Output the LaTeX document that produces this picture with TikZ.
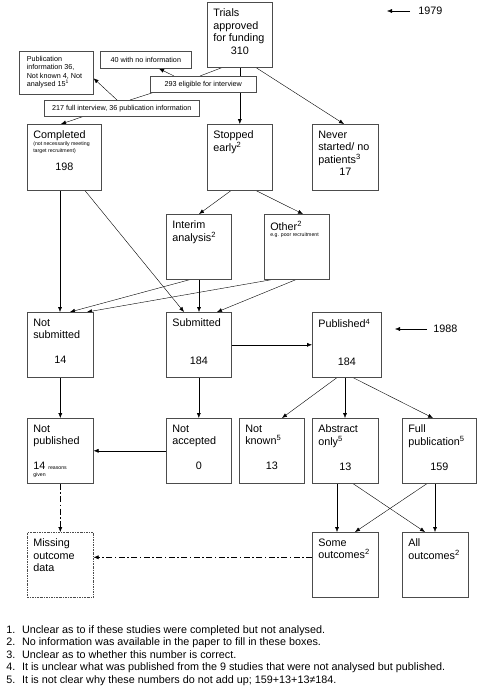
\documentclass[tikz,border=0pt]{standalone}
\usepackage{fontspec}
\setmainfont{Liberation Sans}
\usetikzlibrary{arrows.meta}
\usetikzlibrary{calc}
\pgfdeclarelayer{bg}
\pgfsetlayers{bg,main}
\newcommand\maintext{\fontsize{10.8}{12.5}\selectfont}
\newcommand\smalltext{\fontsize{7.2}{8.4}\selectfont}
\newcommand\tinytext{\fontsize{5.2}{6.8}\selectfont}

\begin{document}
\begin{tikzpicture}[x=1pt,y=-1pt,line width=0.6pt,font=\maintext,
  >={Latex[length=5pt,width=4pt]},
  box/.style 2 args={draw=black!70,fill=white,anchor=north west,inner xsep=6pt,inner ysep=6.5pt,
    execute at begin node={\begin{minipage}[c][#2pt][t]{#1pt}\raggedright},
    execute at end node={\end{minipage}}},
  note/.style={draw=black!70,fill=white,anchor=north west,font=\smalltext,inner sep=0pt},
  gap/.style={dash pattern=on 6pt off 2.5pt on 1.5pt off 2.5pt},
  year/.style={anchor=west,inner sep=0pt}]
\useasboundingbox (0,0) rectangle (478,688);
% top of the flow
\node (trials) at (207,2) [box={53}{52}] {Trials\\approved\\for funding\par\centering 310\par};
\node (pubinfo) at (19,51) [box={59}{33},inner xsep=7.5pt,inner ysep=5pt,font=\smalltext] {Publication\\information 36,\\Not known 4, Not\\analysed 15\textsuperscript{1}};
\node (noinfo) at (100,51) [note,minimum width=91,minimum height=17] {40 with no information};
\node (eligible) at (150,76) [note,minimum width=106,minimum height=16] {293 eligible for interview};
\node (fullint) at (44,100) [note,minimum width=155,minimum height=16] {217 full interview, 36 publication information};
\node (y1979) at (418,11) [year] {1979};
\coordinate (t1979) at (387,11);
% second row
\node (completed) at (27,124) [box={62}{53}] {Completed\par{\tinytext (not necessarily meeting\\target recruitment)\par}\vspace{5.5pt}\centering 198\par};
\node (stopped) at (207,124) [box={53}{53}] {Stopped\\early\textsuperscript{2}};
\node (never) at (312,124) [box={54}{53}] {Never\\started/ no\\patients\textsuperscript{3}\par\centering 17\par};
\node (interim) at (166,214) [box={53}{52}] {Interim\\analysis\textsuperscript{2}};
\node (other) at (264,214) [box={53}{52}] {Other\textsuperscript{2}\par{\tinytext e.g. poor recruitment\par}};
% submission
\node (notsub) at (27,312) [box={54}{52}] {Not\\submitted\par\vspace{12.5pt}\centering 14\par};
\node (submitted) at (166,312) [box={53}{52}] {Submitted\par\vspace{25pt}\centering 184\par};
\node (published) at (312,312) [box={57}{52}] {Published\textsuperscript{4}\par\vspace{25pt}\centering 184\par};
\node (y1988) at (433,329) [year] {1988};
\coordinate (t1988) at (395,329);
% outcome of submission
\node (notpub) at (27,418) [box={54}{52}] {Not\\published\par\vspace{12.5pt}14 {\tinytext reasons}\par{\tinytext given\par}};
\node (notacc) at (166,418) [box={53}{52}] {Not\\accepted\par\vspace{12.5pt}\centering 0\par};
\node (notknown) at (239,418) [box={53}{52}] {Not\\known\textsuperscript{5}\par\vspace{12.5pt}\centering 13\par};
\node (abstract) at (312,418) [box={54}{52}] {Abstract\\only\textsuperscript{5}\par\vspace{12.5pt}\centering 13\par};
\node (full) at (402,418) [box={62}{52}] {Full\\publication\textsuperscript{5}\par\vspace{12.5pt}\centering 159\par};
% outcomes
\node (missing) at (27,532) [box={54}{52},dash pattern=on 2pt off 1pt on 0.7pt off 1pt] {Missing\\outcome\\data};
\node (some) at (312,532) [box={54}{52}] {Some\\outcomes\textsuperscript{2}};
\node (all) at (402,532) [box={54}{52}] {All\\outcomes\textsuperscript{2}};
% footnotes
\node (notes) at (6,624) [anchor=north west,inner sep=0pt] {\begin{tabular}{@{}l@{\hspace{6.7pt}}l@{}}
1. & Unclear as to if these studies were completed but not analysed.\\
2. & No information was available in the paper to fill in these boxes.\\
3. & Unclear as to whether this number is correct.\\
4. & It is unclear what was published from the 9 studies that were not analysed but published.\\
5. & It is not clear why these numbers do not add up; 159+13+13≠184.
\end{tabular}};
\begin{pgfonlayer}{bg}
\draw[->] ([xshift=-8pt]y1979.west) -- (t1979);
\draw[->] ([xshift=-6pt]y1988.west) -- (t1988);
\draw ([xshift=15pt]trials.south west) -- ([xshift=50pt]eligible.north west);
\draw[->] ([xshift=24pt]eligible.north west) -- ([xshift=59pt]noinfo.south west);
\draw ([xshift=3pt]eligible.south west) -- ([xshift=86pt]fullint.north west);
\draw[->] ([xshift=73pt]fullint.north west) -- ([yshift=-5.5pt]pubinfo.east);
\draw[->] ([xshift=39pt]fullint.south west) -- ([xshift=34pt]completed.north west);
\draw[->] (trials.south) -- (stopped.north);
\draw[->] ([xshift=49pt]trials.south west) -- ([xshift=32pt]never.north west);
\draw[->] ([xshift=33pt]completed.south west) -- ([xshift=33pt]notsub.north west);
\draw[->] ([xshift=58pt]completed.south west) -- ([xshift=18pt]submitted.north west);
\draw[->] ([xshift=24pt]stopped.south west) -- ([xshift=33pt]interim.north west);
\draw[->] ([xshift=49pt]stopped.south west) -- ([xshift=39pt]other.north west);
\draw[->] ([xshift=24pt]interim.south west) -- ([xshift=43pt]notsub.north west);
\draw[->] ([xshift=33pt]interim.south west) -- ([xshift=33pt]submitted.north west);
\draw[->] ([xshift=8pt]other.south west) -- ([xshift=60pt]notsub.north west);
\draw[->] ([xshift=32pt]other.south west) -- ([xshift=51pt]submitted.north west);
\draw[->] (submitted.east) -- (published.west);
\draw[->] (notsub.south) -- (notpub.north);
\draw[->] (submitted.south) -- (notacc.north);
\draw[->] ([xshift=25pt]published.south west) -- ([xshift=43pt]notknown.north west);
\draw[->] ([xshift=33pt]published.south west) -- ([xshift=33pt]abstract.north west);
\draw[->] ([xshift=41pt]published.south west) -- ([xshift=31pt]full.north west);
\draw[->] (notacc.west) -- (notpub.east);
\draw[->,gap] (notpub.south) -- (missing.north);
\draw[->] ([xshift=25pt]abstract.south west) -- ([xshift=25pt]some.north west);
\draw[->] ([xshift=41pt]abstract.south west) -- ([xshift=23pt]all.north west);
\draw[->] ([xshift=25pt]full.south west) -- ([xshift=43pt]some.north west);
\draw[->] ([xshift=33pt]full.south west) -- ([xshift=33pt]all.north west);
\draw[->,gap] ([yshift=7.5pt]some.west) -- ([yshift=7.5pt]missing.east);
\end{pgfonlayer}
\end{tikzpicture}
\end{document}
